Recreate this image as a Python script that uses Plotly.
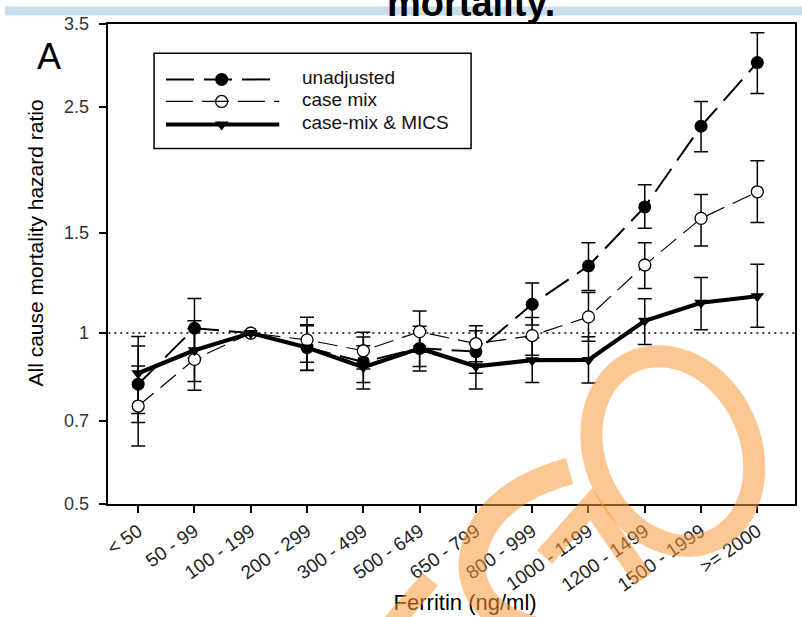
import math
import plotly.graph_objects as go

W, H = 802, 617
FONT = "Liberation Sans, Arial, sans-serif"

# Ferritin categories (ng/ml)
categories = ["< 50", "50 - 99", "100 - 199", "200 - 299", "300 - 499", "500 - 649",
              "650 - 799", "800 - 999", "1000 - 1199", "1200 - 1499", "1500 - 1999", ">= 2000"]

# hazard ratios with 95% CI; 100-199 is the reference group (no interval)
unadjusted_hr = [0.813, 1.02, 1.00, 0.943, 0.89, 0.94, 0.928, 1.124, 1.313, 1.668, 2.313, 2.994]
unadjusted_lo = [0.696, 0.904, None, 0.859, 0.819, 0.873, 0.85, 1.033, 1.188, 1.53, 2.085, 2.64]
unadjusted_hi = [0.949, 1.151, None, 1.035, 0.984, 1.01, 1.01, 1.225, 1.443, 1.825, 2.556, 3.38]

case_mix_hr = [0.744, 0.899, 1.00, 0.973, 0.931, 1.006, 0.958, 0.99, 1.068, 1.318, 1.592, 1.773]
case_mix_lo = [0.633, 0.793, None, 0.889, 0.865, 0.925, 0.89, 0.914, 0.968, 1.198, 1.423, 1.566]
case_mix_hi = [0.875, 1.018, None, 1.066, 1.004, 1.094, 1.03, 1.065, 1.179, 1.443, 1.754, 2.01]

mics_hr = [0.85, 0.933, 1.00, 0.943, 0.871, 0.94, 0.874, 0.896, 0.897, 1.051, 1.131, 1.161]
mics_lo = [0.722, 0.822, None, 0.86, 0.797, 0.858, 0.797, 0.819, 0.817, 0.955, 1.014, 1.024]
mics_hi = [0.986, 1.051, None, 1.03, 0.95, 1.028, 0.958, 0.981, 0.985, 1.149, 1.253, 1.322]

y_tick_vals = [0.5, 0.7, 1, 1.5, 2.5, 3.5]
y_tick_text = ["0.5", "0.7", "1", "1.5", "2.5", "3.5"]

series_names = ["unadjusted", "case mix", "case-mix & MICS"]

x_idx = list(range(len(categories)))
X_RANGE = [-0.53, 11.67]

# vertical pixel units: TOP sits at the paper top, BOT at the paper bottom
TOP, BOT = 9.7, 605.7
def PX(x):
    return x / W
def PY(y):
    return (BOT - y) / (BOT - TOP)
def FY(f):
    # paper position from a layout-pixel offset measured down from the paper top
    return 1 - f / H

fig = go.Figure()

# dotted reference line at HR = 1
fig.add_trace(go.Scatter(x=X_RANGE, y=[1, 1], mode="lines",
                         line=dict(color="black", width=1.5, dash="2px,4px"),
                         hoverinfo="skip", showlegend=False))

series = [
    (unadjusted_hr, unadjusted_lo, unadjusted_hi,
     dict(color="black", width=2, dash="28px,10px"),
     dict(symbol="circle", size=13, color="black")),
    (case_mix_hr, case_mix_lo, case_mix_hi,
     dict(color="black", width=1.2, dash="20px,9px"),
     dict(symbol="circle", size=12, color="white", line=dict(color="black", width=1.3))),
    (mics_hr, mics_lo, mics_hi,
     dict(color="black", width=4.2),
     dict(symbol="triangle-down", size=12, color="black")),
]

# confidence intervals first so lines and markers sit on top
for hr, lo, hi, _, _ in series:
    ix = [i for i in x_idx if lo[i] is not None]
    fig.add_trace(go.Scatter(
        x=ix, y=[hr[i] for i in ix], mode="markers",
        marker=dict(size=2, opacity=0),
        error_y=dict(type="data", symmetric=False,
                     array=[hi[i] - hr[i] for i in ix],
                     arrayminus=[hr[i] - lo[i] for i in ix],
                     color="black", thickness=1.5, width=7),
        hoverinfo="skip", showlegend=False))

for (hr, lo, hi, line, marker), name in zip(series, series_names):
    fig.add_trace(go.Scatter(x=x_idx, y=hr, mode="lines+markers", name=name,
                             line=line, marker=marker, showlegend=False))

# ---- legend box drawn in pixel units (x2/y2) ----
def legend_row(y, line, marker, label):
    fig.add_shape(type="line", xref="x2", yref="y2", x0=162, x1=276, y0=y, y1=y, line=line)
    fig.add_trace(go.Scatter(x=[218], y=[y], xaxis="x2", yaxis="y2", mode="markers",
                             marker=marker, hoverinfo="skip", showlegend=False))
    fig.add_annotation(xref="x2", yref="y2", x=297, y=y - 2, text=label, showarrow=False,
                       xanchor="left", yanchor="middle", font=dict(size=19, color="#111"))

fig.add_shape(type="rect", xref="x2", yref="y2", x0=150, x1=469, y0=53, y1=148,
              line=dict(color="black", width=1.5))
legend_row(79, dict(color="black", width=2, dash="28px,10px"),
           dict(symbol="circle", size=13, color="black"), series_names[0])
legend_row(101, dict(color="black", width=1.2, dash="27px,9px"),
           dict(symbol="circle", size=12, color="white", line=dict(color="black", width=1.3)),
           series_names[1])
legend_row(124, dict(color="black", width=4.2),
           dict(symbol="triangle-down", size=12, color="black"), series_names[2])

# panel letter and axis titles
fig.add_annotation(xref="paper", yref="paper", x=PX(30), y=FY(25), text="A", showarrow=False,
                   font=dict(size=36, color="black"))
fig.add_annotation(xref="x2", yref="y2", x=31, y=242, text="All cause mortality hazard ratio",
                   textangle=-90, showarrow=False, font=dict(size=21, color="black"))
fig.add_trace(go.Scatter(x=[463], y=[603], xaxis="x2", yaxis="y2", mode="text",
                         text=["Ferritin (ng/ml)"], textposition="middle center",
                         textfont=dict(size=22, color="black", family=FONT),
                         cliponaxis=False, hoverinfo="skip", showlegend=False))

# header strip with the slide title running off the top edge
fig.add_shape(type="rect", xref="paper", yref="paper", x0=0, x1=1, y0=FY(5.6), y1=FY(-3.6),
              fillcolor="#C9DDEE", line=dict(width=0), layer="below")
fig.add_annotation(xref="paper", yref="paper", x=PX(469), y=FY(-7.3), text="<b>mortality.</b>",
                   showarrow=False, xanchor="center", yanchor="middle",
                   font=dict(size=38, color="black", family=FONT))

# orange watermark strokes
ORANGE = "#F99A3B"
def to_paper(cmds):
    out = []
    for c, pts in cmds:
        out.append(c + " " + " ".join(f"{PX(x):.5f},{PY(y):.5f}" for x, y in pts))
    return " ".join(out)

def ellipse_cmds(cx, cy, rx, ry, deg, n=72):
    a = math.radians(deg)
    cmds = []
    for k in range(n):
        t = 2 * math.pi * k / n
        ex, ey = rx * math.cos(t), ry * math.sin(t)
        p = (cx + ex * math.cos(a) - ey * math.sin(a), cy + ex * math.sin(a) + ey * math.cos(a))
        cmds.append(("M" if k == 0 else "L", [p]))
    return to_paper(cmds) + " Z"

fig.add_shape(type="path", xref="paper", yref="paper", path=ellipse_cmds(672, 450, 78, 98, -25),
              line=dict(color=ORANGE, width=22), opacity=0.55, layer="above")
fig.add_shape(type="path", xref="paper", yref="paper",
              path=to_paper([("M", [(568, 470)]), ("Q", [(478, 495), (470, 560)]),
                             ("Q", [(468, 615), (545, 632)])]),
              line=dict(color=ORANGE, width=27), opacity=0.55, layer="above")
fig.add_shape(type="path", xref="paper", yref="paper",
              path=to_paper([("M", [(543, 556)]), ("L", [(590, 503)]), ("L", [(642, 578)])]),
              line=dict(color=ORANGE, width=20), opacity=0.55, layer="above")
fig.add_shape(type="path", xref="paper", yref="paper",
              path=to_paper([("M", [(390, 622)]), ("L", [(428, 578)])]),
              line=dict(color=ORANGE, width=20), opacity=0.55, layer="above")

fig.update_layout(
    width=W, height=H, margin=dict(l=0, r=0, t=0, b=0),
    paper_bgcolor="white", plot_bgcolor="rgba(0,0,0,0)", showlegend=False,
    font=dict(family=FONT, color="#222"),
    xaxis=dict(domain=[PX(104), PX(795)], range=X_RANGE, anchor="y",
               tickmode="array", tickvals=x_idx, ticktext=categories, tickangle=-35,
               ticks="outside", ticklen=7, tickwidth=1.5, tickcolor="black",
               showline=True, linecolor="black", linewidth=1.5, mirror=True,
               showgrid=False, zeroline=False, tickfont=dict(size=19, color="#222")),
    yaxis=dict(domain=[PY(503), FY(14.5)], type="log",
               range=[math.log10(0.5), math.log10(3.5)], anchor="x",
               tickmode="array", tickvals=y_tick_vals, ticktext=y_tick_text,
               ticks="outside", ticklen=8, tickwidth=1.5, tickcolor="black",
               showline=True, linecolor="black", linewidth=1.5, mirror=True,
               showgrid=False, zeroline=False, ticklabelstandoff=6,
               tickfont=dict(size=18, color="#333")),
    xaxis2=dict(domain=[0, 1], range=[0, W], visible=False, anchor="y2"),
    yaxis2=dict(domain=[0, 1], range=[BOT, TOP], visible=False, anchor="x2"),
)

fig.write_html("out.html")
